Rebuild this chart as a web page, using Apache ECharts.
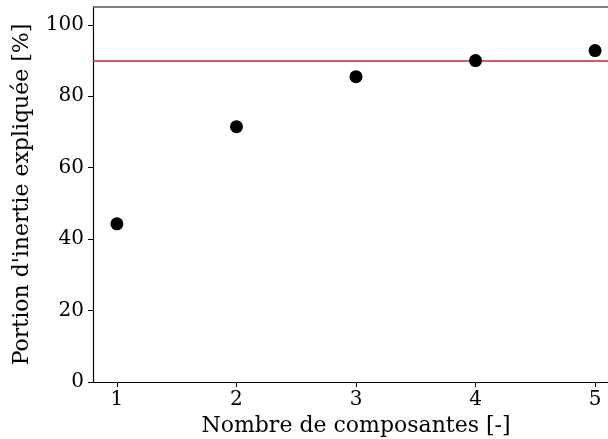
<!DOCTYPE html>
<html><head><meta charset="utf-8">
<script src="https://cdn.jsdelivr.net/npm/echarts@6/dist/echarts.min.js"></script>
<style>html,body{margin:0;padding:0;background:#fff;overflow:hidden}#c{width:608px;height:439px}</style>
</head><body><div id="c"></div>
<script>
const components = [1, 2, 3, 4, 5];
const inertia = [44.3, 71.5, 85.5, 90.0, 92.8];
const threshold = 90;
const yTicks = [0, 20, 40, 60, 80, 100];
const xTicks = [1, 2, 3, 4, 5];

const F = 'DejaVu Serif';
const XMIN = 0.8, XMAX = 5.2;
const chart = echarts.init(document.getElementById('c'), null, {renderer: 'canvas'});
chart.setOption({
  animation: false,
  backgroundColor: '#fff',
  grid: {left: 93, top: 7, right: -11, bottom: 57, show: false, containLabel: false, outerBoundsMode: 'none'},
  xAxis: [{
    type: 'value', min: XMIN, max: XMAX,
    name: 'Nombre de composantes [-]', nameLocation: 'middle', nameGap: 31,
    nameTextStyle: {fontFamily: F, fontSize: 22, color: '#000'},
    axisLine: {show: true, onZero: false, lineStyle: {color: '#000', width: 1.2}},
    axisTick: {show: true, length: 5, lineStyle: {color: '#000'}, customValues: xTicks},
    axisLabel: {fontFamily: F, fontSize: 20, color: '#000', margin: 8,
      customValues: xTicks, formatter: v => String(v)},
    splitLine: {show: false}
  }],
  yAxis: {
    type: 'value', min: 0, max: 105,
    name: "Portion d'inertie expliquée [%]", nameLocation: 'middle', nameGap: 60,
    nameTextStyle: {fontFamily: F, fontSize: 22, color: '#000'},
    axisLine: {show: true, onZero: false, lineStyle: {color: '#000', width: 1.2}},
    axisTick: {show: true, length: 5, lineStyle: {color: '#000'}, customValues: yTicks},
    axisLabel: {fontFamily: F, fontSize: 20, color: '#000', margin: 9,
      customValues: yTicks, formatter: v => String(v)},
    splitLine: {show: false}
  },
  graphic: [{
    type: 'line', silent: true, z: 10,
    shape: {x1: 93, y1: 7, x2: 608, y2: 7},
    style: {stroke: '#555', lineWidth: 1.5}
  }],
  series: [{
    type: 'scatter',
    data: components.map((c, i) => [c, inertia[i]]),
    symbol: 'circle', symbolSize: 13,
    itemStyle: {color: '#000', opacity: 1},
    z: 3,
    markLine: {
      silent: true, symbol: 'none', label: {show: false},
      lineStyle: {color: '#c0282d', width: 1.5, type: 'solid', opacity: 1},
      emphasis: {disabled: true},
      data: [{yAxis: threshold}],
      z: 2
    }
  }]
});
</script></body></html>
